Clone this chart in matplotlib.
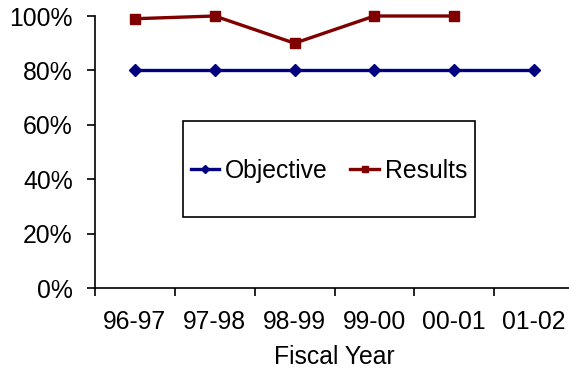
import matplotlib
matplotlib.use('Agg')
import matplotlib.pyplot as plt
from matplotlib.patches import Rectangle
from matplotlib.ticker import FuncFormatter

plt.rcParams['font.family'] = ['Liberation Sans', 'DejaVu Sans']

# Fiscal years and the two series (fractions of 1)
years = ['96-97', '97-98', '98-99', '99-00', '00-01', '01-02']
objective = [0.80, 0.80, 0.80, 0.80, 0.80, 0.80]
results = [0.99, 1.00, 0.90, 1.00, 1.00]

W, H = 569, 369
fig = plt.figure(figsize=(W / 100, H / 100), dpi=100)
# axes runs past the right edge, like the original sheet
ax = fig.add_axes([95 / W, 81 / H, 479 / W, 272 / H])

xs = range(len(years))
ax.plot(xs, objective, color='#000080', lw=2.4, marker='D', ms=6,
        mfc='#000080', mec='#000080', clip_on=False, label='Objective')
ax.plot(range(len(results)), results, color='#800000', lw=2.4, marker='s',
        ms=7, mfc='#800000', mec='#800000', clip_on=False, label='Results')

ax.set_xlim(-0.5, len(years) - 0.5)
ax.set_ylim(0, 1)
ax.set_yticks([0, 0.2, 0.4, 0.6, 0.8, 1.0])
ax.yaxis.set_major_formatter(FuncFormatter(lambda v, p: f'{v * 100:.0f}%'))

ax.set_xticks(list(xs))
ax.set_xticklabels(years)
ax.set_xticks([i - 0.5 for i in range(len(years) + 1)], minor=True)
ax.tick_params(axis='x', which='major', length=0, pad=16, labelsize=17.8)
ax.tick_params(axis='x', which='minor', length=6, width=1.2, direction='out')
ax.tick_params(axis='y', length=6, width=1.2, direction='out', pad=10,
               labelsize=17.8)

for s in ['top', 'right']:
    ax.spines[s].set_visible(False)
for s in ['left', 'bottom']:
    ax.spines[s].set_linewidth(1.2)

ax.set_xlabel('Fiscal Year', fontsize=17.8, labelpad=2)
ax.xaxis.set_label_coords((334 - 95) / 479, -57 / 272)

# legend box with wide vertical padding
fig.patches.append(Rectangle((183 / W, 1 - 217 / H), 292 / W, 96 / H,
                             transform=fig.transFigure, fill=False,
                             edgecolor='black', lw=1.2))
fig.legend(loc='center', bbox_to_anchor=(329 / W, 1 - 171 / H),
           frameon=False, ncol=2, fontsize=17.8, handlelength=1.15,
           handletextpad=0.25, columnspacing=0.9, markerscale=0.7)

fig.savefig('out.png', dpi=100)
